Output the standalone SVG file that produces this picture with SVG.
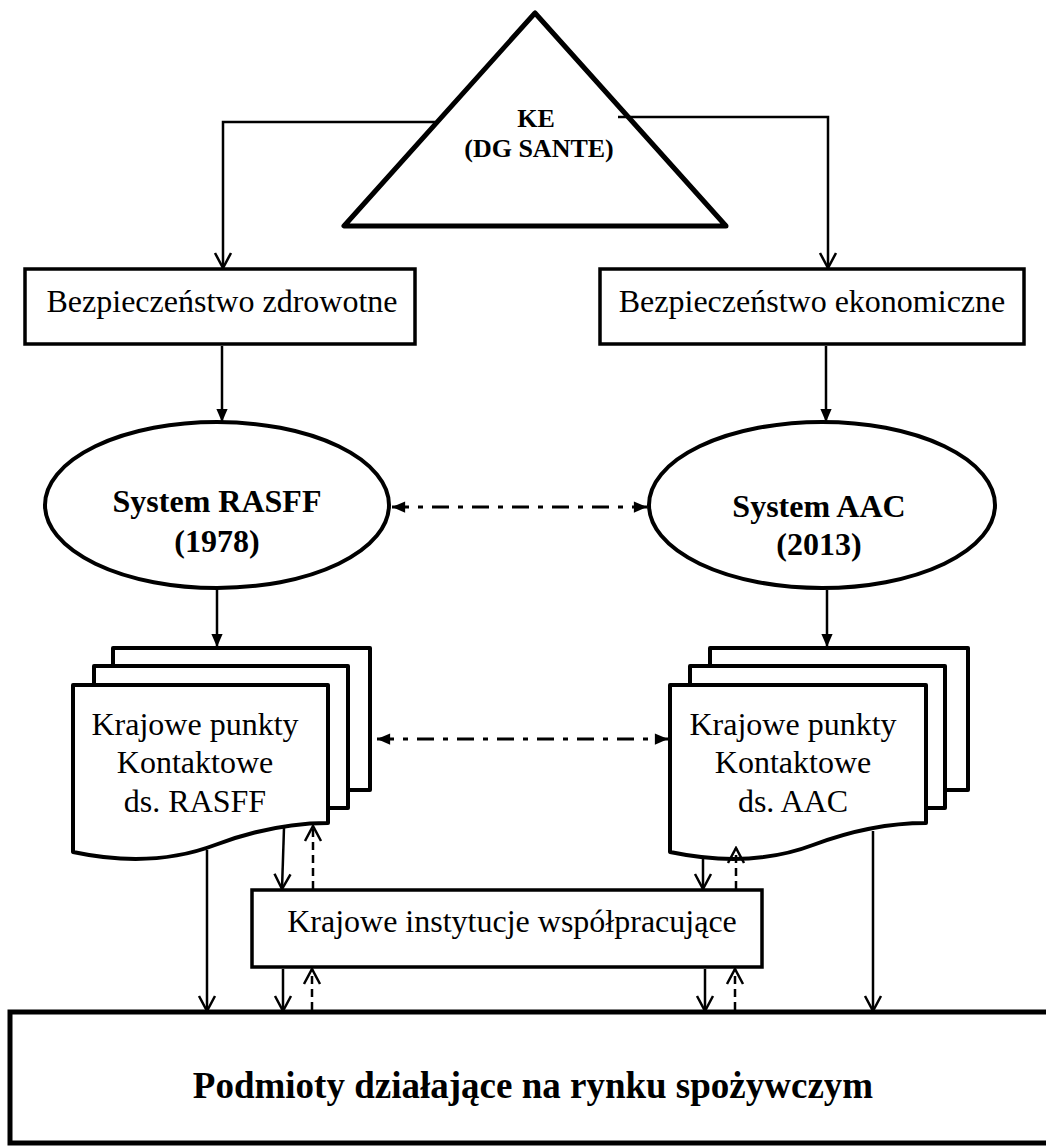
<svg xmlns="http://www.w3.org/2000/svg" width="1046" height="1146" viewBox="0 0 1046 1146">
<defs>
<style>
.shape{fill:#fff;stroke:#000;stroke-width:4;stroke-linejoin:round}
.box{fill:#fff;stroke:#000;stroke-width:3.5}
.t{font-family:"Liberation Serif","Times New Roman",serif;fill:#000;text-anchor:middle}
.b{font-weight:bold}
.c{fill:none;stroke:#000;stroke-width:2.5}
.dd{stroke-dasharray:17 9 5 9;stroke-width:3}
.dash{stroke-dasharray:8 5}
</style>
<marker id="v" viewBox="0 0 20 20" refX="18" refY="10" markerWidth="20" markerHeight="20" markerUnits="userSpaceOnUse" orient="auto">
<path d="M3,2 L18,10 L3,18" fill="none" stroke="#000" stroke-width="2.5"/>
</marker>
<marker id="f" viewBox="0 0 16 16" refX="15" refY="8" markerWidth="15" markerHeight="15" markerUnits="userSpaceOnUse" orient="auto">
<path d="M1,2 L15,8 L1,14 Z" fill="#000"/>
</marker>
<marker id="fs" viewBox="0 0 16 16" refX="1" refY="8" markerWidth="15" markerHeight="15" markerUnits="userSpaceOnUse" orient="auto">
<path d="M15,2 L1,8 L15,14 Z" fill="#000"/>
</marker>
</defs>
<rect width="1046" height="1146" fill="#fff"/>

<g id="ke">
<polygon class="shape" points="535,13 344,226 726,226" style="fill:none;stroke-width:5"/>
<text class="t b" x="536" y="127" font-size="26">KE</text>
<text class="t b" x="539" y="157" font-size="26">(DG SANTE)</text>
</g>

<g id="bezp-zdrowotne">
<rect class="box" x="25" y="269" width="390" height="75"/>
<text class="t" x="222" y="312" font-size="32">Bezpieczeństwo zdrowotne</text>
</g>

<g id="bezp-ekonomiczne">
<rect class="box" x="600" y="269" width="424" height="75"/>
<text class="t" x="812" y="312" font-size="32">Bezpieczeństwo ekonomiczne</text>
</g>

<g id="rasff">
<ellipse class="shape" cx="217" cy="505" rx="172" ry="83"/>
<text class="t b" x="217" y="512" font-size="32">System RASFF</text>
<text class="t b" x="217" y="552" font-size="32">(1978)</text>
</g>

<g id="aac">
<ellipse class="shape" cx="822" cy="505" rx="173" ry="83"/>
<text class="t b" x="819" y="517" font-size="32">System AAC</text>
<text class="t b" x="819" y="555" font-size="32">(2013)</text>
</g>

<g id="kp-rasff">
<rect class="shape" x="113" y="648" width="257" height="142"/>
<rect class="shape" x="94" y="666" width="254" height="142"/>
<path class="shape" d="M73,685 H328 V823 C290,823 255,830 215,845 C170,862 120,862 73,852 Z"/>
<text class="t" x="195" y="735" font-size="32">Krajowe punkty</text>
<text class="t" x="195" y="773" font-size="32">Kontaktowe</text>
<text class="t" x="195" y="812" font-size="32">ds. RASFF</text>
</g>

<g id="kp-aac">
<rect class="shape" x="710" y="648" width="258" height="142"/>
<rect class="shape" x="690" y="666" width="255" height="142"/>
<path class="shape" d="M670,685 H926 V823 C888,823 853,830 813,845 C768,862 718,862 670,852 Z"/>
<text class="t" x="793" y="735" font-size="32">Krajowe punkty</text>
<text class="t" x="793" y="773" font-size="32">Kontaktowe</text>
<text class="t" x="793" y="812" font-size="32">ds. AAC</text>
</g>

<g id="instytucje">
<rect class="box" x="252" y="890" width="510" height="77"/>
<text class="t" x="512" y="932" font-size="32">Krajowe instytucje współpracujące</text>
</g>

<g id="podmioty">
<rect class="box" x="10" y="1012" width="1050" height="131" style="stroke-width:5"/>
<text class="t b" x="533" y="1098" font-size="37">Podmioty działające na rynku spożywczym</text>
</g>

<g id="connectors">
<polyline class="c" points="435,122 223,122 223,268" marker-end="url(#v)"/>
<polyline class="c" points="618,117 828,117 828,268" marker-end="url(#v)"/>
<line class="c" x1="222" y1="346" x2="222" y2="422" marker-end="url(#f)"/>
<line class="c" x1="826" y1="346" x2="826" y2="422" marker-end="url(#f)"/>
<line class="c" x1="217" y1="590" x2="217" y2="647" marker-end="url(#f)"/>
<line class="c" x1="827" y1="590" x2="827" y2="647" marker-end="url(#f)"/>
<line class="c dd" x1="392" y1="507" x2="647" y2="507" marker-start="url(#fs)" marker-end="url(#f)"/>
<line class="c dd" x1="377" y1="739" x2="668" y2="739" marker-start="url(#fs)" marker-end="url(#f)"/>
<line class="c" x1="207" y1="850" x2="207" y2="1011" marker-end="url(#v)"/>
<line class="c" x1="284" y1="828" x2="282" y2="889" marker-end="url(#v)"/>
<line class="c dash" x1="313" y1="889" x2="313" y2="826" marker-end="url(#v)"/>
<line class="c" x1="703" y1="858" x2="703" y2="889" marker-end="url(#v)"/>
<line class="c dash" x1="736" y1="889" x2="736" y2="848" marker-end="url(#v)"/>
<line class="c" x1="873" y1="831" x2="873" y2="1011" marker-end="url(#v)"/>
<line class="c" x1="283" y1="969" x2="283" y2="1011" marker-end="url(#v)"/>
<line class="c dash" x1="312" y1="1010" x2="312" y2="969" marker-end="url(#v)"/>
<line class="c" x1="705" y1="969" x2="705" y2="1011" marker-end="url(#v)"/>
<line class="c dash" x1="735" y1="1010" x2="735" y2="969" marker-end="url(#v)"/>
</g>
</svg>
